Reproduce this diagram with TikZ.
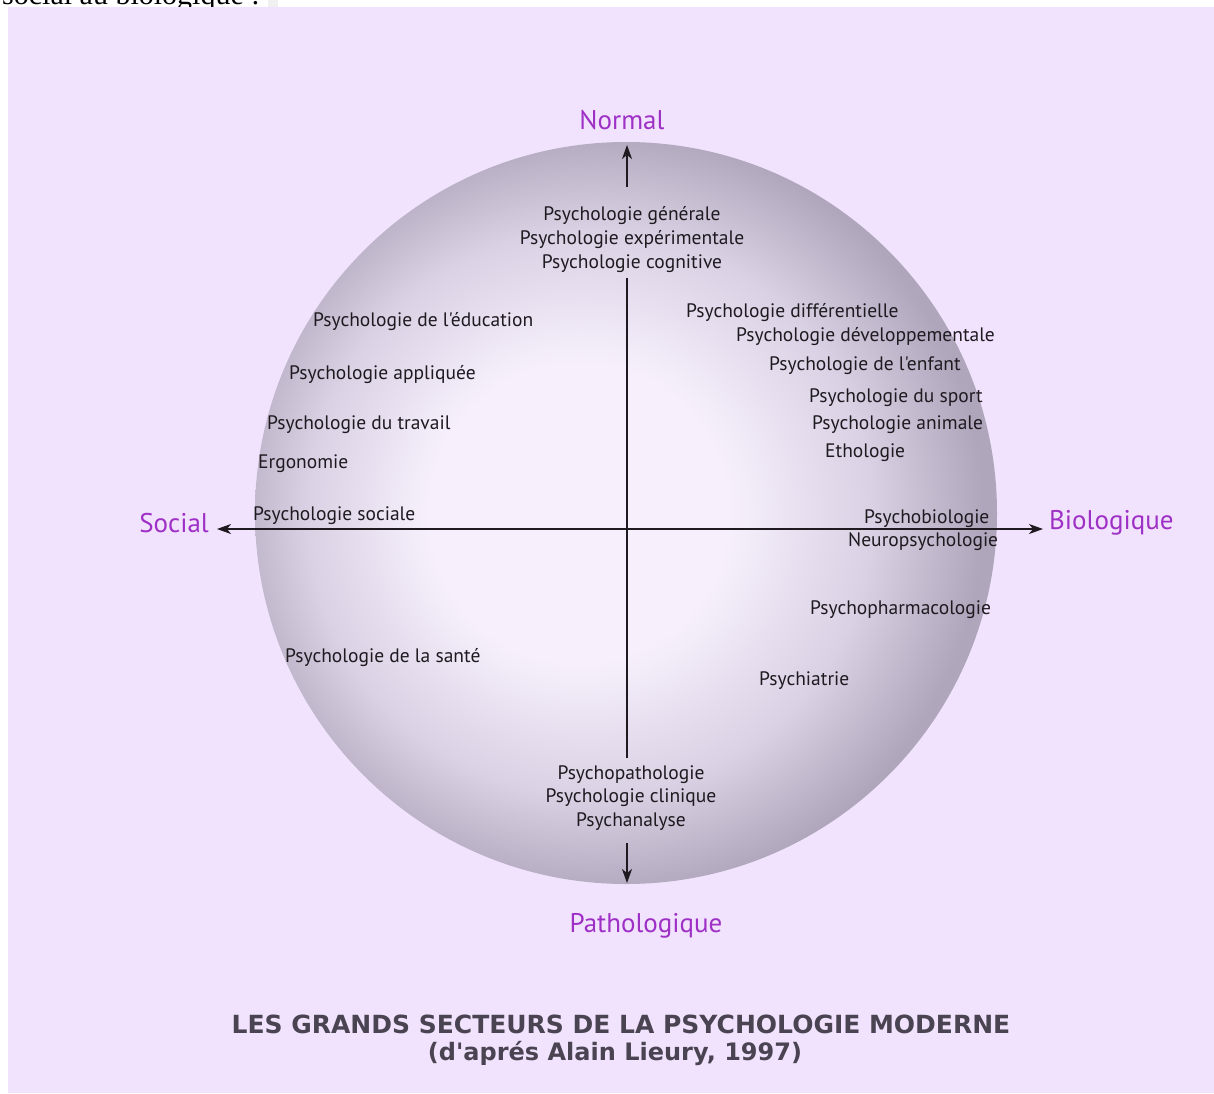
\documentclass[tikz,border=0pt]{standalone}
\usepackage{fontspec}
\usetikzlibrary{arrows.meta}
\newfontfamily\labfont{PT Sans}
\newfontfamily\ttlfont{DejaVu Sans}
\newfontfamily\serfont{Liberation Serif}
\definecolor{bgc}{RGB}{241,227,253}
\definecolor{orbin}{RGB}{247,240,252}
\definecolor{orbmid}{RGB}{218,209,228}
\definecolor{orbout}{RGB}{176,166,188}
\definecolor{textc}{RGB}{30,26,32}
\definecolor{polec}{RGB}{158,48,198}
\definecolor{ttlc}{RGB}{74,68,82}
\pgfdeclareradialshading{orb}{\pgfpoint{-4bp}{0bp}}{color(0bp)=(orbin); color(10bp)=(orbin); color(19bp)=(orbmid); color(26bp)=(orbout); color(50bp)=(orbout)}
\tikzset{
  item/.style={font=\labfont\fontsize{19.5}{24}\selectfont, text=textc, inner sep=0pt, yshift=-2pt},
  itemw/.style={item, anchor=west},
  pole/.style={font=\labfont\fontsize{27}{30}\selectfont, text=polec, inner sep=0pt},
  axisline/.style={line width=1.5pt, draw=textc},
  tipend/.style={-{Stealth[length=14pt,width=10pt,inset=4pt]}},
  ttl/.style={font=\ttlfont\bfseries\fontsize{25}{30}\selectfont, text=ttlc, inner sep=0pt},
}
\begin{document}
\begin{tikzpicture}[x=1pt,y=-1pt]
\useasboundingbox (0,0) rectangle (1214,1093);
% page strip with clipped text above the panel
\begin{scope}
  \clip (0,0) rectangle (1214,7);
  \node[anchor=base west, inner sep=0pt, font=\serfont\fontsize{30}{30}\selectfont] (frag) at (2,4.5) {social au biologique :};
  \fill[gray!12] (268,0) rectangle (278,7);
\end{scope}
% panel
\fill[bgc] (8,7) rectangle (1214,1093);
% orb
\shade[shading=orb] (626,513) circle[radius=371pt];
% axis coordinates
\coordinate (ntail) at (627,187);
\coordinate (ntip) at (627,145);
\coordinate (vtop) at (627,278);
\coordinate (vbot) at (627,758);
\coordinate (stail) at (627,843);
\coordinate (stip) at (627,883);
\coordinate (wtip) at (217,529);
\coordinate (etip) at (1043,529);
% axes
\draw[axisline, tipend] (ntail) -- (ntip);
\draw[axisline] (vtop) -- (vbot);
\draw[axisline, tipend] (stail) -- (stip);
\draw[axisline, {Stealth[length=14pt,width=10pt,inset=4pt]}-{Stealth[length=14pt,width=10pt,inset=4pt]}] (wtip) -- (etip);
% poles
\node[pole] (normal) at (622,120) {Normal};
\node[pole] (patho) at (646,926) {Pathologique};
\node[pole, anchor=east] (social) at (209,523) {Social};
\node[pole, anchor=west] (bio) at (1049,523) {Biologique};
% central blocks
\node[item, align=center] (topblk) at (632,238) {Psychologie générale\\Psychologie expérimentale\\Psychologie cognitive};
\node[item, align=center, font=\labfont\fontsize{19.5}{23.5}\selectfont] (botblk) at (631,796) {Psychopathologie\\Psychologie clinique\\Psychanalyse};
% left side
\node[itemw] (educ) at (313,320) {Psychologie de l'éducation};
\node[itemw] (appl) at (289,373) {Psychologie appliquée};
\node[itemw] (trav) at (267,423) {Psychologie du travail};
\node[itemw] (ergo) at (258,462) {Ergonomie};
\node[itemw] (soc) at (253,514) {Psychologie sociale};
\node[itemw] (sante) at (285,656) {Psychologie de la santé};
% right side
\node[itemw] (diff) at (686,311) {Psychologie différentielle};
\node[itemw] (dev) at (736,335) {Psychologie développementale};
\node[itemw] (enf) at (769,364) {Psychologie de l'enfant};
\node[itemw] (sport) at (809,396) {Psychologie du sport};
\node[itemw] (anim) at (812,423) {Psychologie animale};
\node[itemw] (etho) at (825,451) {Ethologie};
\node[itemw] (pbio) at (864,517) {Psychobiologie};
\node[itemw] (neuro) at (848,540) {Neuropsychologie};
\node[itemw] (pharm) at (810,608) {Psychopharmacologie};
\node[itemw] (psychi) at (759,679) {Psychiatrie};
% title
\node[ttl] (title) at (621,1024) {LES GRANDS SECTEURS DE LA PSYCHOLOGIE MODERNE};
\node[ttl, font=\ttlfont\bfseries\fontsize{24}{28}\selectfont] (subtitle) at (615,1053) {(d'aprés Alain Lieury, 1997)};
\end{tikzpicture}
\end{document}
